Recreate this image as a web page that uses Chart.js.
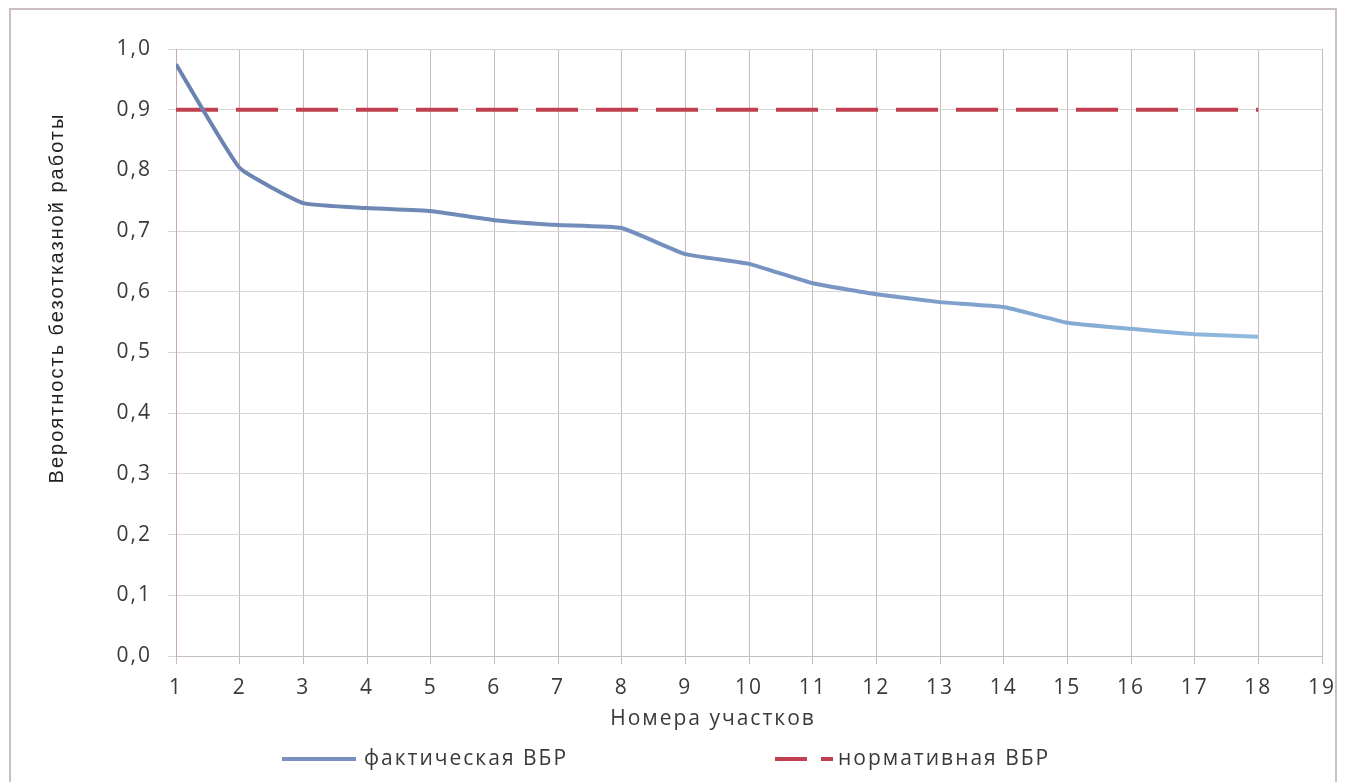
<!DOCTYPE html>
<html>
<head>
<meta charset="utf-8">
<script src="https://cdn.jsdelivr.net/npm/chart.js@4/dist/chart.umd.min.js"></script>
<style>
  html, body { margin: 0; padding: 0; background: #ffffff; }
  #wrap { position: relative; width: 1348px; height: 782px; }
  canvas { display: block; }
</style>
</head>
<body>
<div id="wrap"><canvas id="c" width="1348" height="782"></canvas></div>
<script>
// ---- data ----
const sections = [1, 2, 3, 4, 5, 6, 7, 8, 9, 10, 11, 12, 13, 14, 15, 16, 17, 18];
const actualPBR = [0.975, 0.804, 0.746, 0.738, 0.733, 0.718, 0.710, 0.705, 0.662, 0.646, 0.614, 0.596, 0.583, 0.575, 0.549, 0.539, 0.530, 0.526];
const normPBR = [0.9, 0.9, 0.9, 0.9, 0.9, 0.9, 0.9, 0.9, 0.9, 0.9, 0.9, 0.9, 0.9, 0.9, 0.9, 0.9, 0.9, 0.9];
const seriesNames = ['фактическая ВБР', 'нормативная ВБР'];
const xTitle = 'Номера участков';
const yTitle = 'Вероятность безотказной работы';

const FONT = '"Open Sans", sans-serif';
const TXT = '#3a3a3a';
const BLUE = '#7890bd';
const RED = '#c0404f';

function blueGradient(ctx) {
  const chart = ctx.chart;
  const a = chart.chartArea;
  if (!a) return BLUE;
  const g = chart.ctx.createLinearGradient(a.left, 0, a.right, 0);
  g.addColorStop(0, '#6a82b0');
  g.addColorStop(0.55, '#7894c2');
  g.addColorStop(1, '#93c0e3');
  return g;
}

const decorPlugin = {
  id: 'decor',
  beforeDraw(chart) {
    const c = chart.ctx;
    c.save();
    c.fillStyle = '#ffffff';
    c.fillRect(0, 0, chart.width, chart.height);
    c.strokeStyle = '#cbbfc0';
    c.lineWidth = 2;
    c.strokeRect(10, 9, 1326, 800);
    c.restore();
    // wider letter spacing for all text, as in the reference
    if ('letterSpacing' in c) c.letterSpacing = '2px';
  },
  afterDraw(chart) {
    const c = chart.ctx;
    c.save();
    if ('letterSpacing' in c) c.letterSpacing = '2px';
    // y title
    c.fillStyle = '#222222';
    c.font = '20px "Liberation Sans", Arial, sans-serif';
    c.textAlign = 'center';
    c.textBaseline = 'middle';
    c.translate(57, 298);
    c.rotate(-Math.PI / 2);
    c.fillText(yTitle, 0, 0);
    c.restore();

    c.save();
    if ('letterSpacing' in c) c.letterSpacing = '2px';
    c.fillStyle = TXT;
    c.font = '21px ' + FONT;
    c.textAlign = 'center';
    c.textBaseline = 'middle';
    c.fillText(xTitle, 713, 719);

    // legend
    const ly = 759;
    c.lineWidth = 4;
    c.strokeStyle = BLUE;
    c.beginPath();
    c.moveTo(282, ly); c.lineTo(356, ly);
    c.stroke();
    c.textAlign = 'left';
    c.font = '21px ' + FONT;
    c.fillText(seriesNames[0], 364, ly);

    c.strokeStyle = RED;
    c.beginPath();
    c.moveTo(775, ly); c.lineTo(807, ly);
    c.moveTo(821, ly); c.lineTo(833, ly);
    c.stroke();
    c.fillText(seriesNames[1], 838, ly);
    c.restore();
  }
};

new Chart(document.getElementById('c'), {
  type: 'line',
  data: {
    datasets: [
      {
        label: seriesNames[0],
        data: sections.map((x, i) => ({ x: x, y: actualPBR[i] })),
        borderColor: blueGradient,
        borderWidth: 4,
        pointRadius: 0,
        tension: 0.12,
        fill: false
      },
      {
        label: seriesNames[1],
        data: sections.map((x, i) => ({ x: x, y: normPBR[i] })),
        borderColor: RED,
        borderWidth: 4,
        borderDash: [42, 18],
        pointRadius: 0,
        tension: 0,
        fill: false
      }
    ]
  },
  options: {
    responsive: false,
    animation: false,
    layout: { padding: { left: 0, top: 49, right: 26, bottom: 0 } },
    plugins: {
      legend: { display: false },
      tooltip: { enabled: false }
    },
    scales: {
      x: {
        type: 'linear',
        min: 1,
        max: 19,
        afterFit(s) { s.height = 126; },
        ticks: {
          stepSize: 1,
          color: TXT,
          font: { family: FONT, size: 21 },
          padding: 11,
          maxRotation: 0
        },
        grid: { color: '#cdb9bd', lineWidth: 1, tickLength: 8, drawTicks: true },
        border: { color: '#c4c0c0', width: 1 }
      },
      y: {
        min: 0,
        max: 1,
        afterFit(s) { s.width = 176; },
        ticks: {
          stepSize: 0.1,
          color: TXT,
          font: { family: FONT, size: 21 },
          padding: 16,
          callback: v => (Math.round(v * 10) / 10).toFixed(1).replace('.', ',')
        },
        grid: { color: '#d6d6d6', lineWidth: 1, tickLength: 8 },
        border: { color: '#c9a9b0', width: 1 }
      }
    }
  },
  plugins: [decorPlugin]
});
</script>
</body>
</html>
